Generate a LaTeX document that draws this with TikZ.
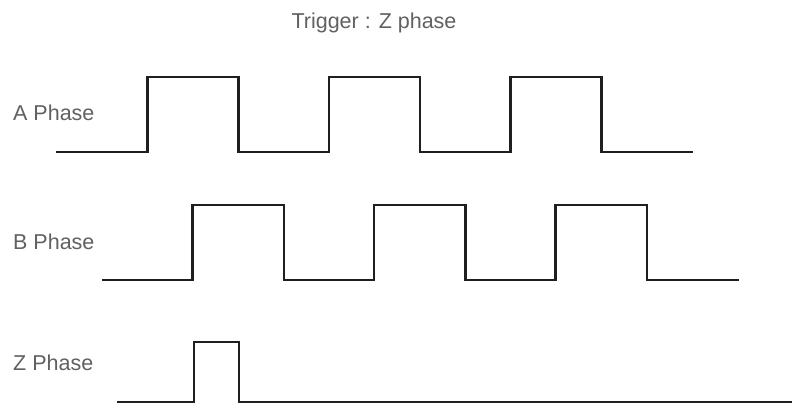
\documentclass[tikz,border=0pt]{standalone}
\usepackage{fontspec}
\setmainfont{Liberation Sans}
\usetikzlibrary{positioning}

\begin{document}
\begin{tikzpicture}[x=1pt, y=-1pt,
  wave/.style={line width=2.6pt, draw=black!88, line join=miter},
  lbl/.style={font=\fontsize{21.5}{22}\selectfont, text=black!62, inner sep=0pt}]
\useasboundingbox[fill=white] (0,0) rectangle (792,405);
\node[lbl] (trig) at (374,22.5) {Trigger : Z phase};
\node[lbl, anchor=west] (aname) at (13,113) {A Phase};
\node[lbl, anchor=west] (bname) at (13,242) {B Phase};
\node[lbl, anchor=west] (zname) at (13,363) {Z Phase};
% A phase
\draw[wave] (56,152) foreach \x in {147.5,329,510.5} { -- (\x,152) -- (\x,77) -- (\x+91,77) -- (\x+91,152) } -- (693,152);
% B phase
\draw[wave] (101.5,280) foreach \x in {192.7,374,555.7} { -- (\x,280) -- (\x,205) -- (\x+91.3,205) -- (\x+91.3,280) } -- (739,280);
% Z phase
\draw[wave] (117,402) -- (194,402) -- (194,342) -- (239,342) -- (239,402) -- (792,402);
\end{tikzpicture}
\end{document}
